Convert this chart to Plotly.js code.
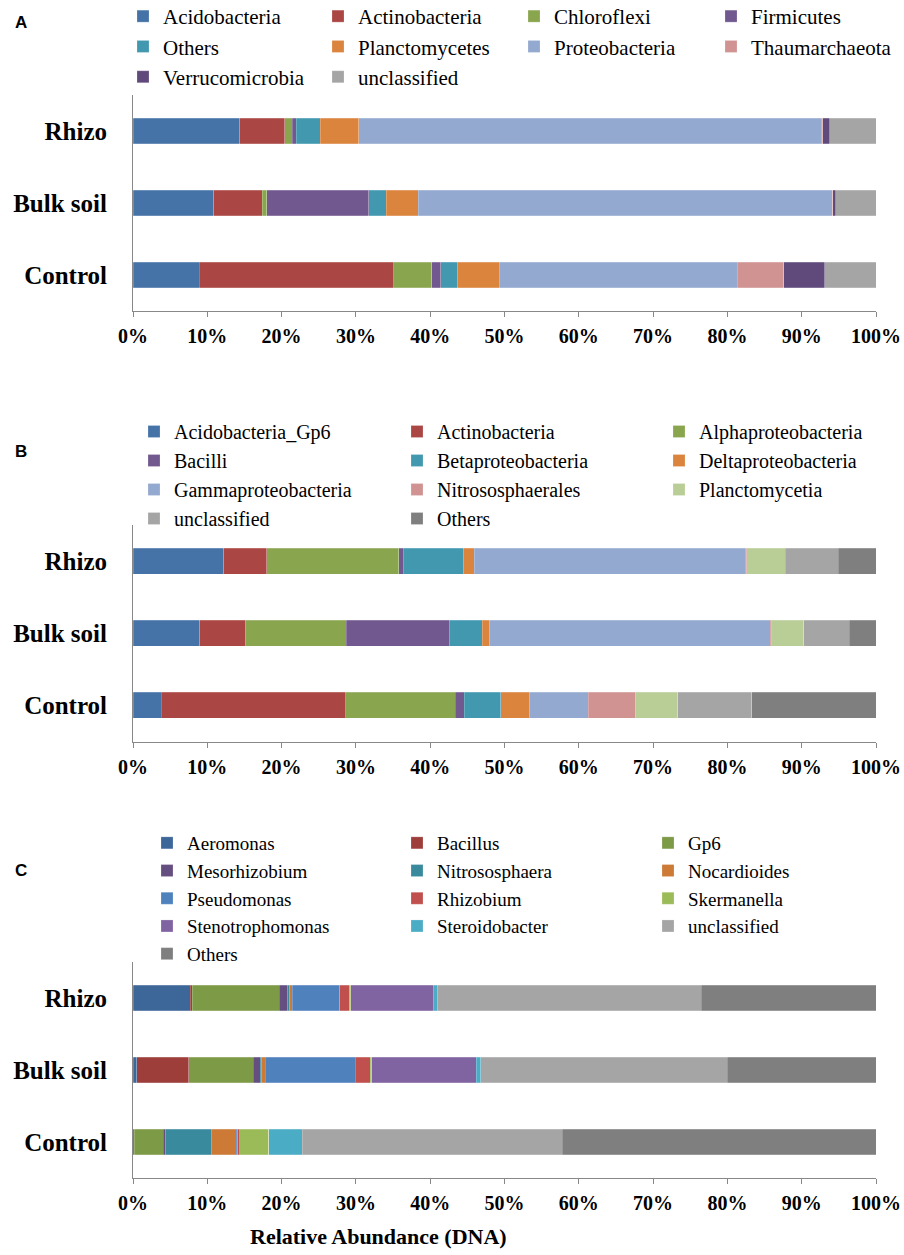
<!DOCTYPE html>
<html>
<head>
<meta charset="utf-8">
<script src="https://cdn.plot.ly/plotly-3.0.1.min.js"></script>
<style>html,body{margin:0;padding:0;background:#fff}#chart{width:904px;height:1255px}</style>
</head>
<body>
<div id="chart"></div>
<script>
// ---------- data ----------
var samples = ['Rhizo', 'Bulk soil', 'Control'];
var xTickVals = [0, 10, 20, 30, 40, 50, 60, 70, 80, 90, 100];
var xTickLabels = ['0%', '10%', '20%', '30%', '40%', '50%', '60%', '70%', '80%', '90%', '100%'];

// Panel A (phylum)
var phylaA = ['Acidobacteria', 'Actinobacteria', 'Chloroflexi', 'Firmicutes', 'Others',
  'Planctomycetes', 'Proteobacteria', 'Thaumarchaeota', 'Verrucomicrobia', 'unclassified'];
var A_Acidobacteria   = [14.4, 10.9, 8.9];
var A_Actinobacteria  = [6.0, 6.5, 26.2];
var A_Chloroflexi     = [1.0, 0.6, 5.1];
var A_Firmicutes      = [0.6, 13.7, 1.2];
var A_Others          = [3.2, 2.4, 2.3];
var A_Planctomycetes  = [5.2, 4.3, 5.6];
var A_Proteobacteria  = [62.2, 55.7, 32.0];
var A_Thaumarchaeota  = [0.2, 0.1, 6.3];
var A_Verrucomicrobia = [1.0, 0.4, 5.5];
var A_unclassified    = [6.2, 5.4, 6.9];

// Panel B (class)
var classesB = ['Acidobacteria_Gp6', 'Actinobacteria', 'Alphaproteobacteria', 'Bacilli',
  'Betaproteobacteria', 'Deltaproteobacteria', 'Gammaproteobacteria', 'Nitrososphaerales',
  'Planctomycetia', 'unclassified', 'Others'];
var B_Gp6          = [12.2, 9.0, 3.8];
var B_Actino       = [5.8, 6.1, 24.8];
var B_Alpha        = [17.8, 13.6, 14.8];
var B_Bacilli      = [0.6, 13.9, 1.2];
var B_Beta         = [8.1, 4.4, 4.9];
var B_Delta        = [1.4, 1.0, 3.9];
var B_Gamma        = [36.5, 37.8, 7.9];
var B_Nitroso      = [0.2, 0.2, 6.3];
var B_Plancto      = [5.2, 4.3, 5.7];
var B_unclassified = [7.1, 6.1, 10.0];
var B_Others       = [5.1, 3.6, 16.7];

// Panel C (genus)
var generaC = ['Aeromonas', 'Bacillus', 'Gp6', 'Mesorhizobium', 'Nitrososphaera', 'Nocardioides',
  'Pseudomonas', 'Rhizobium', 'Skermanella', 'Stenotrophomonas', 'Steroidobacter', 'unclassified', 'Others'];
var C_Aeromonas    = [7.7, 0.5, 0.0];
var C_Bacillus     = [0.3, 7.0, 0.2];
var C_Gp6          = [11.7, 8.7, 3.9];
var C_Meso         = [1.1, 0.9, 0.3];
var C_Nitroso      = [0.3, 0.2, 6.1];
var C_Nocard       = [0.3, 0.5, 3.4];
var C_Pseudo       = [6.4, 12.1, 0.2];
var C_Rhizobium    = [1.3, 2.0, 0.3];
var C_Skerm        = [0.2, 0.2, 3.9];
var C_Steno        = [11.1, 14.1, 0.0];
var C_Steroid      = [0.6, 0.6, 4.5];
var C_unclassified = [35.5, 33.2, 35.0];
var C_Others       = [23.5, 20.0, 42.2];

// ---------- styles ----------
var colorsA = ['#4572A7', '#AA4643', '#89A54E', '#71588F', '#4198AF', '#DB843D', '#93A9CF', '#D19392', '#604A7B', '#A5A5A5'];
var colorsB = ['#4572A7', '#AA4643', '#89A54E', '#71588F', '#4198AF', '#DB843D', '#93A9CF', '#D19392', '#B9CD96', '#A5A5A5', '#7F7F7F'];
var colorsC = ['#3D6699', '#9E3E3A', '#7D9A47', '#654F80', '#3A8A9E', '#CC7A35', '#4F81BD', '#C0504D', '#9BBB59', '#8064A2', '#4BACC6', '#A5A5A5', '#7F7F7F'];

var valsA = [A_Acidobacteria, A_Actinobacteria, A_Chloroflexi, A_Firmicutes, A_Others,
  A_Planctomycetes, A_Proteobacteria, A_Thaumarchaeota, A_Verrucomicrobia, A_unclassified];
var valsB = [B_Gp6, B_Actino, B_Alpha, B_Bacilli, B_Beta, B_Delta, B_Gamma, B_Nitroso, B_Plancto, B_unclassified, B_Others];
var valsC = [C_Aeromonas, C_Bacillus, C_Gp6, C_Meso, C_Nitroso, C_Nocard, C_Pseudo, C_Rhizobium,
  C_Skerm, C_Steno, C_Steroid, C_unclassified, C_Others];

var W = 904, H = 1255;
function px(x) { return x / W; }
function py(y) { return 1 - y / H; }
function legName(i) { return i === 1 ? 'legend' : 'legend' + i; }

var traces = [];
// each legend column is its own vertical legend; firstLeg = index of the panel's first column legend
function addPanel(names, vals, colors, xa, ya, firstLeg, nCols) {
  names.forEach(function (n, i) {
    traces.push({
      type: 'bar', orientation: 'h', name: n,
      x: vals[i], y: samples,
      xaxis: xa, yaxis: ya, legend: legName(firstLeg + (i % nCols)),
      marker: { color: colors[i], line: { color: 'rgba(255,255,255,0.35)', width: 0.6 } },
      hoverinfo: 'name+x'
    });
  });
}
addPanel(phylaA, valsA, colorsA, 'x', 'y', 1, 4);
addPanel(classesB, valsB, colorsB, 'x2', 'y2', 5, 3);
addPanel(generaC, valsC, colorsC, 'x3', 'y3', 8, 3);

var serif = 'Liberation Serif, Times New Roman, serif';
function xAxis(anchor) {
  return {
    anchor: anchor, domain: [px(133), px(876)], range: [0, 100],
    tickmode: 'array', tickvals: xTickVals, ticktext: xTickLabels,
    showgrid: false, zeroline: false,
    showline: true, linecolor: '#888', linewidth: 1,
    ticks: 'outside', ticklen: 5, tickcolor: '#888',
    tickfont: { family: serif, size: 20, color: '#000', weight: 'bold' },
    ticklabelstandoff: 2, automargin: false, fixedrange: true
  };
}
function yAxis(anchor, top, bottom) {
  return {
    anchor: anchor, domain: [py(bottom), py(top)], range: [2.5, -0.5],
    type: 'category', showgrid: false, zeroline: false,
    showline: true, linecolor: '#888', linewidth: 1, ticks: '',
    tickfont: { family: serif, size: 25, color: '#000', weight: 'bold' },
    ticklabelstandoff: 20, automargin: false, fixedrange: true
  };
}
// markerX: centre of the legend swatch (px); top: top edge of legend box (px)
function legendAt(markerX, top, size) {
  return {
    orientation: 'v', xref: 'container', yref: 'paper',
    x: (markerX - 22) / W, y: 1 - top / H, xanchor: 'left', yanchor: 'top',
    traceorder: 'normal', borderwidth: 0,
    font: { family: serif, size: size, color: '#000' }, bgcolor: 'rgba(0,0,0,0)',
    itemclick: false, itemdoubleclick: false
  };
}

var layout = {
  width: W, height: H,
  margin: { l: 0, r: 0, t: 0, b: 0, autoexpand: false },
  paper_bgcolor: '#fff', plot_bgcolor: '#fff',
  barmode: 'stack', bargap: 0.64,
  showlegend: true,
  xaxis: xAxis('y'), yaxis: yAxis('x', 95, 311),
  xaxis2: xAxis('y2'), yaxis2: yAxis('x2', 525, 741.5),
  xaxis3: xAxis('y3'), yaxis3: yAxis('x3', 962, 1178),
  legend:   legendAt(145, -4, 21),
  legend2:  legendAt(340, -4, 21),
  legend3:  legendAt(536, -4, 21),
  legend4:  legendAt(733, -4, 21),
  legend5:  legendAt(156, 412, 20),
  legend6:  legendAt(419, 412, 20),
  legend7:  legendAt(681, 412, 20),
  legend8:  legendAt(169, 824, 19),
  legend9:  legendAt(419, 824, 19),
  legend10: legendAt(670, 824, 19),
  annotations: [
    { text: 'A', xref: 'paper', yref: 'paper', x: px(13), y: py(22), xanchor: 'left', yanchor: 'middle', showarrow: false,
      font: { family: 'Liberation Sans, Arial, sans-serif', size: 17, color: '#000', weight: 'bold' } },
    { text: 'B', xref: 'paper', yref: 'paper', x: px(13), y: py(452), xanchor: 'left', yanchor: 'middle', showarrow: false,
      font: { family: 'Liberation Sans, Arial, sans-serif', size: 17, color: '#000', weight: 'bold' } },
    { text: 'C', xref: 'paper', yref: 'paper', x: px(13), y: py(870), xanchor: 'left', yanchor: 'middle', showarrow: false,
      font: { family: 'Liberation Sans, Arial, sans-serif', size: 17, color: '#000', weight: 'bold' } },
    { text: 'Relative Abundance (DNA)', xref: 'paper', yref: 'paper', x: px(378), y: py(1236), xanchor: 'center', yanchor: 'middle', showarrow: false,
      font: { family: serif, size: 22, color: '#000', weight: 'bold' } }
  ]
};

Plotly.newPlot('chart', traces, layout, { staticPlot: true, displayModeBar: false });
</script>
</body>
</html>
